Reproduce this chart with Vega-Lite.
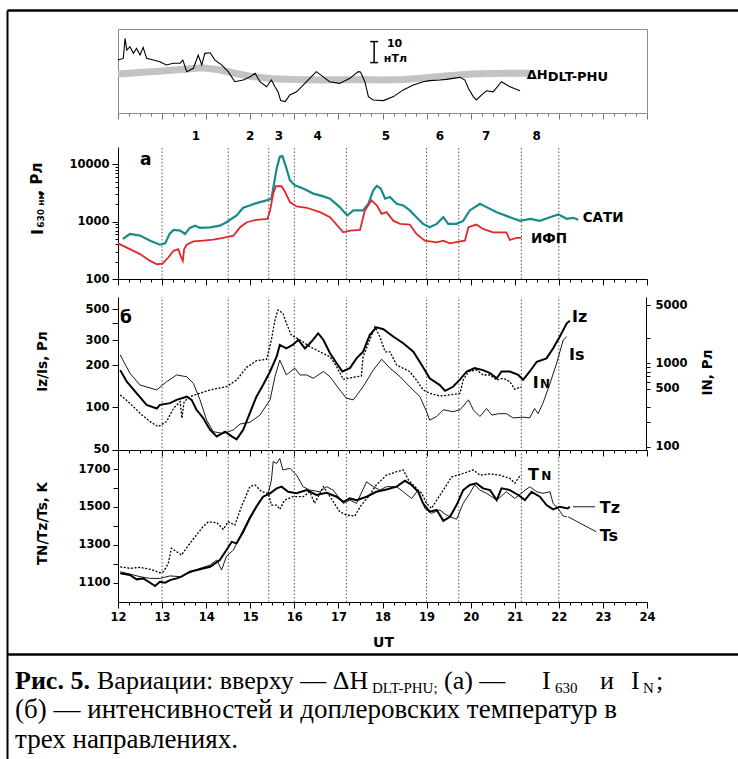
{
"$schema": "https://vega.github.io/schema/vega-lite/v6.json",
"width": 731, "height": 749,
"autosize": {"type": "none"},
"padding": {"left": 7, "top": 10, "right": 0, "bottom": 0},
"background": "white",
"config": {
 "view": {"stroke": null},
 "axis": {"grid": false, "domainColor": "black", "tickColor": "black", "labelColor": "black", "labelFont": "DejaVu Sans", "labelFontWeight": "bold", "labelFontSize": 11.5, "titleFont": "DejaVu Sans", "titleFontWeight": "bold", "titleFontSize": 13.5, "titleColor": "black", "labelOverlap": false, "labelFlush": false, "tickWidth": 1, "domainWidth": 1},
 "text": {"font": "DejaVu Sans", "fontWeight": "bold", "color": "black"}
},
"datasets": {
 "capBold": [{"line": 1, "col": 8, "text": "Рис. 5."}],
 "capReg": [
  {"line": 1, "col": 90, "text": "Вариации: вверху — ΔH"},
  {"line": 1, "col": 437, "text": "(а) —"},
  {"line": 1, "col": 535, "text": "I"},
  {"line": 1, "col": 593, "text": "и"},
  {"line": 1, "col": 624, "text": "I"},
  {"line": 1, "col": 649, "text": ";"}
 ],
 "capReg2": [
  {"line": 2, "col": 8, "text": "(б) — интенсивностей и доплеровских температур в"},
  {"line": 3, "col": 8, "text": "трех направлениях."}
 ],
 "capSub": [
  {"line": 1, "col": 365, "text": "DLT-PHU;"},
  {"line": 1, "col": 548, "text": "630"},
  {"line": 1, "col": 636, "text": "N"}
 ],
 "dh": [
  {"t":12.0,"v":25.2},{"t":12.12,"v":26},{"t":12.16,"v":35.5},{"t":12.2,"v":30},{"t":12.27,"v":31.6},{"t":12.35,"v":28.4},{"t":12.42,"v":30.8},{"t":12.5,"v":27.6},{"t":12.57,"v":31.3},{"t":12.65,"v":26},{"t":12.8,"v":25.2},{"t":12.95,"v":24.4},{"t":13.1,"v":22.9},{"t":13.25,"v":23.7},{"t":13.41,"v":23.7},{"t":13.47,"v":25.2},{"t":13.56,"v":19.7},{"t":13.71,"v":21.3},{"t":13.82,"v":27.6},{"t":13.9,"v":22.9},{"t":13.97,"v":28.4},{"t":14.09,"v":28.7},{"t":14.2,"v":25.2},{"t":14.35,"v":22.9},{"t":14.5,"v":19.7},{"t":14.65,"v":14.9},{"t":14.84,"v":15.7},{"t":15.0,"v":17.3},{"t":15.11,"v":18.9},{"t":15.22,"v":14.9},{"t":15.37,"v":12.5},{"t":15.48,"v":15.7},{"t":15.56,"v":12.5},{"t":15.63,"v":10.1},{"t":15.69,"v":5.9},{"t":15.79,"v":5.4},{"t":15.9,"v":8.6},{"t":16.05,"v":10.1},{"t":16.2,"v":13.3},{"t":16.35,"v":16.5},{"t":16.5,"v":19.7},{"t":16.65,"v":17.3},{"t":16.8,"v":14.9},{"t":17.03,"v":14.1},{"t":17.26,"v":16.5},{"t":17.45,"v":19.7},{"t":17.5,"v":19.5},{"t":17.6,"v":14.9},{"t":17.68,"v":7.8},{"t":17.79,"v":6.2},{"t":18.02,"v":5.9},{"t":18.25,"v":7.8},{"t":18.47,"v":11},{"t":18.7,"v":13.3},{"t":18.92,"v":14.9},{"t":19.07,"v":15.4},{"t":19.3,"v":15.7},{"t":19.45,"v":16},{"t":19.6,"v":16.5},{"t":19.76,"v":17},{"t":19.87,"v":15.7},{"t":19.95,"v":11.7},{"t":20.06,"v":7.8},{"t":20.13,"v":6.2},{"t":20.25,"v":8.6},{"t":20.36,"v":10.6},{"t":20.51,"v":10.1},{"t":20.7,"v":14.9},{"t":20.89,"v":12.5},{"t":21.12,"v":10.6}
 ],
 "band": [
  {"t":12.0,"v":18.6},{"t":12.5,"v":19.3},{"t":13.0,"v":20.0},{"t":13.5,"v":20.8},{"t":13.9,"v":21.5},{"t":14.3,"v":20.6},{"t":14.7,"v":18.7},{"t":15.0,"v":17.5},{"t":15.5,"v":16.3},{"t":16.0,"v":15.9},{"t":16.5,"v":15.7},{"t":17.0,"v":15.8},{"t":17.5,"v":16.0},{"t":18.0,"v":15.7},{"t":18.5,"v":16.0},{"t":19.0,"v":16.8},{"t":19.5,"v":17.8},{"t":20.0,"v":18.6},{"t":20.5,"v":18.8},{"t":21.0,"v":18.9},{"t":21.36,"v":18.9}
 ],
 "bar": [
  {"t":17.81,"t2":17.81,"v":24,"v2":34},
  {"t":17.72,"t2":17.9,"v":34,"v2":34},
  {"t":17.72,"t2":17.9,"v":24,"v2":24}
 ],
 "sati": [
  {"t":12.11,"v":499},{"t":12.27,"v":609},{"t":12.5,"v":570},{"t":12.73,"v":466},{"t":12.95,"v":396},{"t":13.07,"v":417},{"t":13.17,"v":609},{"t":13.26,"v":716},{"t":13.41,"v":698},{"t":13.52,"v":609},{"t":13.63,"v":777},{"t":13.75,"v":851},{"t":13.86,"v":777},{"t":14.09,"v":795},{"t":14.31,"v":851},{"t":14.46,"v":977},{"t":14.69,"v":1280},{"t":14.84,"v":1745},{"t":14.99,"v":1917},{"t":15.14,"v":2104},{"t":15.37,"v":2350},{"t":15.48,"v":2513},{"t":15.54,"v":4610},{"t":15.6,"v":8470},{"t":15.67,"v":13550},{"t":15.73,"v":13930},{"t":15.81,"v":9040},{"t":15.9,"v":5270},{"t":16.01,"v":4310},{"t":16.2,"v":3770},{"t":16.43,"v":3080},{"t":16.66,"v":2760},{"t":16.81,"v":2513},{"t":17.03,"v":1790},{"t":17.2,"v":1280},{"t":17.34,"v":1567},{"t":17.56,"v":1567},{"t":17.68,"v":2050},{"t":17.79,"v":3520},{"t":17.87,"v":4190},{"t":17.96,"v":3770},{"t":18.06,"v":2513},{"t":18.17,"v":2690},{"t":18.32,"v":2050},{"t":18.47,"v":1917},{"t":18.62,"v":1567},{"t":18.77,"v":1195},{"t":18.92,"v":914},{"t":19.07,"v":798},{"t":19.23,"v":914},{"t":19.38,"v":1195},{"t":19.49,"v":914},{"t":19.68,"v":914},{"t":19.83,"v":1030},{"t":19.98,"v":1567},{"t":20.21,"v":2050},{"t":20.36,"v":1790},{"t":20.59,"v":1462},{"t":20.89,"v":1195},{"t":21.12,"v":1030},{"t":21.35,"v":1120},{"t":21.57,"v":1030},{"t":21.8,"v":1195},{"t":21.99,"v":1330},{"t":22.18,"v":1120},{"t":22.33,"v":1166},{"t":22.44,"v":1076}
 ],
 "ifp": [
  {"t":12.0,"v":417},{"t":12.27,"v":332},{"t":12.5,"v":272},{"t":12.73,"v":207},{"t":12.88,"v":181},{"t":13.01,"v":186},{"t":13.14,"v":237},{"t":13.26,"v":310},{"t":13.37,"v":332},{"t":13.42,"v":253},{"t":13.47,"v":207},{"t":13.5,"v":332},{"t":13.56,"v":396},{"t":13.71,"v":453},{"t":13.93,"v":466},{"t":14.16,"v":485},{"t":14.39,"v":519},{"t":14.62,"v":570},{"t":14.77,"v":798},{"t":14.92,"v":977},{"t":15.14,"v":1076},{"t":15.39,"v":1120},{"t":15.45,"v":1567},{"t":15.52,"v":3080},{"t":15.58,"v":4140},{"t":15.71,"v":4140},{"t":15.79,"v":3290},{"t":15.9,"v":2190},{"t":16.05,"v":1840},{"t":16.28,"v":1745},{"t":16.58,"v":1462},{"t":16.81,"v":1195},{"t":17.11,"v":651},{"t":17.26,"v":698},{"t":17.49,"v":716},{"t":17.6,"v":1567},{"t":17.75,"v":2350},{"t":17.87,"v":1917},{"t":17.98,"v":1370},{"t":18.09,"v":1462},{"t":18.25,"v":1030},{"t":18.4,"v":914},{"t":18.62,"v":889},{"t":18.77,"v":609},{"t":18.96,"v":466},{"t":19.23,"v":434},{"t":19.38,"v":466},{"t":19.53,"v":417},{"t":19.76,"v":453},{"t":19.87,"v":466},{"t":19.95,"v":798},{"t":20.13,"v":889},{"t":20.28,"v":747},{"t":20.51,"v":651},{"t":20.81,"v":651},{"t":20.89,"v":478},{"t":21.04,"v":519},{"t":21.15,"v":519}
 ],
 "iz": [
  {"t":12.05,"v":184},{"t":12.2,"v":152},{"t":12.42,"v":126},{"t":12.65,"v":104},{"t":12.88,"v":98},{"t":12.95,"v":104},{"t":13.18,"v":107},{"t":13.33,"v":113},{"t":13.56,"v":119},{"t":13.67,"v":113},{"t":13.78,"v":96},{"t":13.93,"v":84},{"t":14.09,"v":69},{"t":14.24,"v":62},{"t":14.43,"v":67},{"t":14.58,"v":62},{"t":14.69,"v":59},{"t":14.84,"v":69},{"t":14.99,"v":91},{"t":15.14,"v":119},{"t":15.29,"v":144},{"t":15.45,"v":180},{"t":15.6,"v":230},{"t":15.67,"v":278},{"t":15.82,"v":263},{"t":15.96,"v":278},{"t":16.09,"v":302},{"t":16.24,"v":263},{"t":16.39,"v":294},{"t":16.54,"v":337},{"t":16.66,"v":302},{"t":16.81,"v":243},{"t":16.96,"v":206},{"t":17.09,"v":180},{"t":17.26,"v":190},{"t":17.41,"v":223},{"t":17.56,"v":249},{"t":17.71,"v":327},{"t":17.86,"v":371},{"t":18.02,"v":360},{"t":18.25,"v":318},{"t":18.47,"v":286},{"t":18.7,"v":249},{"t":18.89,"v":200},{"t":19.07,"v":161},{"t":19.3,"v":144},{"t":19.42,"v":131},{"t":19.6,"v":140},{"t":19.76,"v":158},{"t":19.91,"v":180},{"t":20.09,"v":190},{"t":20.28,"v":184},{"t":20.44,"v":175},{"t":20.59,"v":161},{"t":20.7,"v":180},{"t":20.89,"v":180},{"t":21.08,"v":170},{"t":21.19,"v":157},{"t":21.34,"v":180},{"t":21.5,"v":211},{"t":21.72,"v":223},{"t":21.87,"v":263},{"t":22.02,"v":318},{"t":22.18,"v":397},{"t":22.25,"v":414}
 ],
 "is": [
  {"t":12.05,"v":236},{"t":12.27,"v":175},{"t":12.5,"v":144},{"t":12.88,"v":133},{"t":13.1,"v":152},{"t":13.33,"v":170},{"t":13.56,"v":165},{"t":13.71,"v":148},{"t":13.86,"v":113},{"t":14.01,"v":81},{"t":14.16,"v":67},{"t":14.39,"v":65},{"t":14.62,"v":69},{"t":14.77,"v":76},{"t":14.99,"v":78},{"t":15.22,"v":88},{"t":15.45,"v":113},{"t":15.56,"v":165},{"t":15.67,"v":217},{"t":15.82,"v":170},{"t":16.01,"v":190},{"t":16.13,"v":170},{"t":16.28,"v":170},{"t":16.43,"v":161},{"t":16.66,"v":180},{"t":16.81,"v":165},{"t":17.03,"v":133},{"t":17.18,"v":116},{"t":17.34,"v":113},{"t":17.56,"v":140},{"t":17.79,"v":184},{"t":17.98,"v":220},{"t":18.17,"v":190},{"t":18.4,"v":165},{"t":18.62,"v":140},{"t":18.85,"v":119},{"t":19.0,"v":93},{"t":19.07,"v":81},{"t":19.23,"v":86},{"t":19.38,"v":96},{"t":19.6,"v":93},{"t":19.76,"v":96},{"t":19.95,"v":113},{"t":20.06,"v":96},{"t":20.21,"v":86},{"t":20.36,"v":98},{"t":20.48,"v":88},{"t":20.63,"v":90},{"t":20.81,"v":90},{"t":20.96,"v":84},{"t":21.19,"v":85},{"t":21.34,"v":84},{"t":21.45,"v":98},{"t":21.53,"v":90},{"t":21.64,"v":107},{"t":21.8,"v":148},{"t":21.95,"v":206},{"t":22.1,"v":302},{"t":22.18,"v":318}
 ],
 "in": [
  {"t":12.05,"v":420},{"t":12.27,"v":334},{"t":12.5,"v":253},{"t":12.73,"v":201},{"t":12.91,"v":175},{"t":13.1,"v":201},{"t":13.26,"v":291},{"t":13.41,"v":349},{"t":13.45,"v":221},{"t":13.5,"v":349},{"t":13.63,"v":400},{"t":13.86,"v":440},{"t":14.09,"v":482},{"t":14.46,"v":527},{"t":14.69,"v":634},{"t":14.92,"v":900},{"t":15.14,"v":1081},{"t":15.37,"v":1122},{"t":15.48,"v":1910},{"t":15.56,"v":3320},{"t":15.63,"v":4370},{"t":15.74,"v":3990},{"t":15.82,"v":3030},{"t":15.93,"v":2190},{"t":16.13,"v":1910},{"t":16.35,"v":1590},{"t":16.58,"v":1380},{"t":16.81,"v":1200},{"t":16.96,"v":915},{"t":17.11,"v":646},{"t":17.34,"v":683},{"t":17.52,"v":708},{"t":17.56,"v":1200},{"t":17.68,"v":1745},{"t":17.83,"v":2750},{"t":17.94,"v":2090},{"t":18.06,"v":1380},{"t":18.17,"v":1380},{"t":18.32,"v":959},{"t":18.47,"v":875},{"t":18.62,"v":798},{"t":18.77,"v":634},{"t":18.92,"v":482},{"t":19.07,"v":440},{"t":19.3,"v":408},{"t":19.53,"v":420},{"t":19.76,"v":440},{"t":19.83,"v":634},{"t":19.95,"v":798},{"t":20.13,"v":836},{"t":20.28,"v":728},{"t":20.44,"v":728},{"t":20.59,"v":634},{"t":20.74,"v":665},{"t":20.89,"v":605},{"t":21.0,"v":491},{"t":21.15,"v":527}
 ],
 "tz": [
  {"t":12.05,"v":1150},{"t":12.27,"v":1141},{"t":12.42,"v":1118},{"t":12.57,"v":1123},{"t":12.73,"v":1100},{"t":12.84,"v":1083},{"t":12.95,"v":1105},{"t":13.07,"v":1100},{"t":13.18,"v":1114},{"t":13.33,"v":1123},{"t":13.44,"v":1132},{"t":13.63,"v":1158},{"t":13.86,"v":1171},{"t":14.09,"v":1184},{"t":14.31,"v":1220},{"t":14.46,"v":1273},{"t":14.58,"v":1316},{"t":14.69,"v":1308},{"t":14.84,"v":1369},{"t":14.99,"v":1440},{"t":15.14,"v":1501},{"t":15.29,"v":1554},{"t":15.45,"v":1572},{"t":15.6,"v":1598},{"t":15.71,"v":1607},{"t":15.86,"v":1580},{"t":16.05,"v":1572},{"t":16.28,"v":1589},{"t":16.5,"v":1563},{"t":16.73,"v":1575},{"t":16.96,"v":1554},{"t":17.11,"v":1527},{"t":17.26,"v":1545},{"t":17.41,"v":1536},{"t":17.64,"v":1554},{"t":17.86,"v":1580},{"t":18.09,"v":1592},{"t":18.32,"v":1607},{"t":18.51,"v":1638},{"t":18.66,"v":1616},{"t":18.81,"v":1580},{"t":18.92,"v":1519},{"t":19.07,"v":1475},{"t":19.23,"v":1484},{"t":19.38,"v":1427},{"t":19.53,"v":1448},{"t":19.68,"v":1510},{"t":19.83,"v":1589},{"t":19.98,"v":1616},{"t":20.13,"v":1625},{"t":20.28,"v":1598},{"t":20.44,"v":1589},{"t":20.59,"v":1536},{"t":20.7,"v":1598},{"t":20.89,"v":1589},{"t":21.08,"v":1563},{"t":21.23,"v":1536},{"t":21.38,"v":1580},{"t":21.57,"v":1554},{"t":21.72,"v":1510},{"t":21.87,"v":1487},{"t":22.02,"v":1501},{"t":22.2,"v":1492},{"t":22.25,"v":1501}
 ],
 "ts": [
  {"t":12.05,"v":1158},{"t":12.27,"v":1146},{"t":12.5,"v":1132},{"t":12.73,"v":1123},{"t":12.95,"v":1123},{"t":13.18,"v":1136},{"t":13.41,"v":1132},{"t":13.63,"v":1153},{"t":13.86,"v":1176},{"t":14.09,"v":1193},{"t":14.24,"v":1220},{"t":14.35,"v":1167},{"t":14.46,"v":1240},{"t":14.62,"v":1273},{"t":14.8,"v":1360},{"t":14.99,"v":1448},{"t":15.22,"v":1536},{"t":15.41,"v":1572},{"t":15.48,"v":1642},{"t":15.52,"v":1739},{"t":15.6,"v":1730},{"t":15.67,"v":1756},{"t":15.74,"v":1695},{"t":15.9,"v":1704},{"t":16.05,"v":1668},{"t":16.2,"v":1607},{"t":16.35,"v":1589},{"t":16.58,"v":1580},{"t":16.73,"v":1607},{"t":16.88,"v":1589},{"t":17.11,"v":1519},{"t":17.26,"v":1536},{"t":17.41,"v":1519},{"t":17.64,"v":1633},{"t":17.79,"v":1607},{"t":17.94,"v":1589},{"t":18.09,"v":1607},{"t":18.32,"v":1607},{"t":18.47,"v":1580},{"t":18.66,"v":1545},{"t":18.81,"v":1589},{"t":18.96,"v":1492},{"t":19.11,"v":1466},{"t":19.3,"v":1484},{"t":19.45,"v":1457},{"t":19.68,"v":1435},{"t":19.83,"v":1519},{"t":19.98,"v":1572},{"t":20.09,"v":1616},{"t":20.21,"v":1589},{"t":20.36,"v":1572},{"t":20.59,"v":1536},{"t":20.81,"v":1580},{"t":21.0,"v":1545},{"t":21.19,"v":1580},{"t":21.34,"v":1607},{"t":21.5,"v":1580},{"t":21.64,"v":1572},{"t":21.8,"v":1580},{"t":21.87,"v":1519},{"t":21.98,"v":1492},{"t":22.1,"v":1452},{"t":22.18,"v":1448}
 ],
 "tn": [
  {"t":12.05,"v":1184},{"t":12.27,"v":1176},{"t":12.5,"v":1181},{"t":12.73,"v":1171},{"t":12.95,"v":1153},{"t":13.03,"v":1158},{"t":13.14,"v":1202},{"t":13.21,"v":1282},{"t":13.33,"v":1264},{"t":13.44,"v":1246},{"t":13.63,"v":1308},{"t":13.78,"v":1352},{"t":13.93,"v":1396},{"t":14.05,"v":1422},{"t":14.24,"v":1417},{"t":14.39,"v":1382},{"t":14.5,"v":1422},{"t":14.65,"v":1404},{"t":14.8,"v":1501},{"t":14.99,"v":1607},{"t":15.11,"v":1616},{"t":15.26,"v":1580},{"t":15.41,"v":1572},{"t":15.48,"v":1510},{"t":15.6,"v":1510},{"t":15.67,"v":1487},{"t":15.78,"v":1536},{"t":15.97,"v":1554},{"t":16.2,"v":1554},{"t":16.35,"v":1580},{"t":16.46,"v":1519},{"t":16.66,"v":1607},{"t":16.81,"v":1554},{"t":17.03,"v":1475},{"t":17.18,"v":1457},{"t":17.37,"v":1452},{"t":17.52,"v":1510},{"t":17.71,"v":1563},{"t":17.86,"v":1616},{"t":18.09,"v":1668},{"t":18.32,"v":1686},{"t":18.47,"v":1695},{"t":18.59,"v":1642},{"t":18.77,"v":1598},{"t":18.89,"v":1572},{"t":19.0,"v":1519},{"t":19.11,"v":1492},{"t":19.23,"v":1536},{"t":19.38,"v":1589},{"t":19.57,"v":1659},{"t":19.83,"v":1677},{"t":20.06,"v":1695},{"t":20.21,"v":1668},{"t":20.44,"v":1674},{"t":20.66,"v":1668},{"t":20.89,"v":1651},{"t":21.0,"v":1625},{"t":21.13,"v":1668}
 ],
 "vlines": [{"t":13.0},{"t":14.5},{"t":15.42},{"t":16.0},{"t":17.18},{"t":19.0},{"t":19.73},{"t":21.15},{"t":22.0}],
 "nums": [{"t":13.77,"n":"1"},{"t":15.0,"n":"2"},{"t":15.65,"n":"3"},{"t":16.53,"n":"4"},{"t":18.08,"n":"5"},{"t":19.3,"n":"6"},{"t":20.35,"n":"7"},{"t":21.5,"n":"8"}],
 "conn": [{"t":22.32,"t2":22.82,"v":1501,"v2":1501},{"t":22.21,"t2":22.85,"v":1448,"v2":1369}]
},
"resolve": {"scale": {"x": "independent", "y": "independent"}, "axis": {"x": "independent", "y": "independent"}},
"layer": [
 {"data": {"name": "capBold"}, "mark": {"type": "text", "font": "Liberation Serif", "fontSize": 26, "fontWeight": "bold", "align": "left", "baseline": "alphabetic"},
  "encoding": {
   "x": {"field": "col", "type": "quantitative", "scale": {"domain": [0, 731], "range": [0, 731], "nice": false, "zero": false}, "axis": {"orient": "top", "offset": 0, "domainColor": "black", "domainWidth": 2.5, "ticks": false, "labels": false, "title": null}},
   "y": {"field": "line", "type": "quantitative", "scale": {"domain": [-22.017, 3.373], "range": [0, 749], "nice": false, "zero": false}, "axis": {"orient": "left", "offset": 0, "domainColor": "black", "domainWidth": 2, "ticks": false, "labels": false, "title": null}},
   "text": {"field": "text"}}},
 {"data": {"name": "capReg"}, "mark": {"type": "text", "font": "Liberation Serif", "fontSize": 26, "fontWeight": "normal", "align": "left", "baseline": "alphabetic"},
  "encoding": {
   "x": {"field": "col", "type": "quantitative", "scale": {"domain": [0, 731], "range": [0, 731], "nice": false, "zero": false}, "axis": {"orient": "bottom", "offset": -105, "domainColor": "black", "domainWidth": 2.5, "ticks": false, "labels": false, "title": null}},
   "y": {"field": "line", "type": "quantitative", "scale": {"domain": [-22.017, 3.373], "range": [0, 749], "nice": false, "zero": false}, "axis": null},
   "text": {"field": "text"}}},
 {"data": {"name": "capReg2"}, "mark": {"type": "text", "font": "Liberation Serif", "fontSize": 27, "fontWeight": "normal", "align": "left", "baseline": "alphabetic"},
  "encoding": {
   "x": {"field": "col", "type": "quantitative", "scale": {"domain": [0, 731], "range": [0, 731], "nice": false, "zero": false}, "axis": null},
   "y": {"field": "line", "type": "quantitative", "scale": {"domain": [-22.017, 3.373], "range": [0, 749], "nice": false, "zero": false}, "axis": null},
   "text": {"field": "text"}}},
 {"data": {"name": "capSub"}, "mark": {"type": "text", "font": "Liberation Serif", "fontSize": 15, "fontWeight": "normal", "align": "left", "baseline": "alphabetic", "dy": 4},
  "encoding": {
   "x": {"field": "col", "type": "quantitative", "scale": {"domain": [0, 731], "range": [0, 731], "nice": false, "zero": false}, "axis": null},
   "y": {"field": "line", "type": "quantitative", "scale": {"domain": [-22.017, 3.373], "range": [0, 749], "nice": false, "zero": false}, "axis": null},
   "text": {"field": "text"}}},

 {"data": {"name": "band"}, "mark": {"type": "line", "color": "#c3c3c3", "strokeWidth": 7, "strokeCap": "butt"},
  "encoding": {
   "x": {"field": "t", "type": "quantitative", "scale": {"domain": [12, 24], "range": [111, 640], "nice": false, "zero": false}, "axis": {"orient": "top", "offset": -19, "domainColor": "#8c8c8c", "ticks": false, "labels": false, "title": null}},
   "y": {"field": "v", "type": "quantitative", "scale": {"domain": [0, 40], "range": [103, 19], "nice": false, "zero": false}, "axis": {"orient": "right", "offset": -91, "domainColor": "#8c8c8c", "ticks": false, "labels": false, "title": null}}}},
 {"data": {"name": "dh"}, "mark": {"type": "line", "color": "black", "strokeWidth": 1.1},
  "encoding": {
   "x": {"field": "t", "type": "quantitative", "scale": {"domain": [12, 24], "range": [111, 640], "nice": false, "zero": false}, "axis": {"orient": "bottom", "offset": -646, "values": [12,13,14,15,16,17,18,19,20,21,22,23,24], "tickSize": 6, "domainColor": "#8c8c8c", "tickColor": "#777777", "labels": false, "title": null}},
   "y": {"field": "v", "type": "quantitative", "scale": {"domain": [0, 40], "range": [103, 19], "nice": false, "zero": false}, "axis": {"orient": "left", "offset": -111, "domainColor": "#8c8c8c", "ticks": false, "labels": false, "title": null}}}},
 {"data": {"name": "bar"}, "mark": {"type": "rule", "color": "black", "strokeWidth": 1.5},
  "encoding": {
   "x": {"field": "t", "type": "quantitative", "scale": {"domain": [12, 24], "range": [111, 640], "nice": false, "zero": false}, "axis": {"orient": "bottom", "offset": -646, "values": [12.25,12.5,12.75,13.25,13.5,13.75,14.25,14.5,14.75,15.25,15.5,15.75,16.25,16.5,16.75,17.25,17.5,17.75,18.25,18.5,18.75,19.25,19.5,19.75,20.25,20.5,20.75,21.25,21.5,21.75,22.25,22.5,22.75,23.25,23.5,23.75], "tickSize": 3, "domain": false, "tickColor": "#777777", "labels": false, "title": null}},
   "x2": {"field": "t2"},
   "y": {"field": "v", "type": "quantitative", "scale": {"domain": [0, 40], "range": [103, 19], "nice": false, "zero": false}, "axis": null},
   "y2": {"field": "v2"}}},
 {"data": {"values": [{"t": 18.1, "v": 32.9, "text": "10"}, {"t": 18.03, "v": 25.7, "text": "нТл"}]}, "mark": {"type": "text", "fontSize": 11, "align": "left", "baseline": "middle"},
  "encoding": {
   "x": {"field": "t", "type": "quantitative", "scale": {"domain": [12, 24], "range": [111, 640], "nice": false, "zero": false}, "axis": null},
   "y": {"field": "v", "type": "quantitative", "scale": {"domain": [0, 40], "range": [103, 19], "nice": false, "zero": false}, "axis": null},
   "text": {"field": "text"}}},
 {"data": {"values": [{"t": 21.27, "v": 18.1, "text": "ΔH"}]}, "mark": {"type": "text", "fontSize": 13, "align": "left", "baseline": "middle"},
  "encoding": {
   "x": {"field": "t", "type": "quantitative", "scale": {"domain": [12, 24], "range": [111, 640], "nice": false, "zero": false}, "axis": null},
   "y": {"field": "v", "type": "quantitative", "scale": {"domain": [0, 40], "range": [103, 19], "nice": false, "zero": false}, "axis": null},
   "text": {"field": "text"}}},
 {"data": {"values": [{"t": 21.75, "v": 17.3, "text": "DLT-PHU"}]}, "mark": {"type": "text", "fontSize": 13, "align": "left", "baseline": "middle"},
  "encoding": {
   "x": {"field": "t", "type": "quantitative", "scale": {"domain": [12, 24], "range": [111, 640], "nice": false, "zero": false}, "axis": null},
   "y": {"field": "v", "type": "quantitative", "scale": {"domain": [0, 40], "range": [103, 19], "nice": false, "zero": false}, "axis": null},
   "text": {"field": "text"}}},

 {"data": {"name": "vlines"}, "mark": {"type": "rule", "color": "#555555", "strokeWidth": 1, "strokeDash": [1.5, 2]},
  "encoding": {
   "x": {"field": "t", "type": "quantitative", "scale": {"domain": [12, 24], "range": [111, 640], "nice": false, "zero": false}, "axis": null},
   "y": {"datum": 100, "type": "quantitative", "scale": {"type": "log", "domain": [100, 20000], "range": [269, 137], "nice": false}, "axis": null},
   "y2": {"datum": 20000}}},
 {"data": {"name": "vlines"}, "mark": {"type": "rule", "color": "#555555", "strokeWidth": 1, "strokeDash": [1.5, 2]},
  "encoding": {
   "x": {"field": "t", "type": "quantitative", "scale": {"domain": [12, 24], "range": [111, 640], "nice": false, "zero": false}, "axis": null},
   "y": {"datum": 0, "type": "quantitative", "scale": {"domain": [0, 1], "range": [592, 287], "nice": false, "zero": false}, "axis": null},
   "y2": {"datum": 1}}},

 {"data": {"name": "sati"}, "mark": {"type": "line", "color": "#178b8b", "strokeWidth": 2.2},
  "encoding": {
   "x": {"field": "t", "type": "quantitative", "scale": {"domain": [12, 24], "range": [111, 640], "nice": false, "zero": false}, "axis": {"orient": "bottom", "offset": -480, "values": [12,13,14,15,16,17,18,19,20,21,22,23,24], "tickSize": 6, "labels": false, "title": null}},
   "y": {"field": "v", "type": "quantitative", "scale": {"type": "log", "domain": [100, 20000], "range": [269, 137], "nice": false}, "axis": {"orient": "left", "offset": -111, "values": [100, 1000, 10000], "format": "d", "tickSize": 6, "labelPadding": 3, "title": null}}}},
 {"data": {"name": "ifp"}, "mark": {"type": "line", "color": "#e4262a", "strokeWidth": 1.8},
  "encoding": {
   "x": {"field": "t", "type": "quantitative", "scale": {"domain": [12, 24], "range": [111, 640], "nice": false, "zero": false}, "axis": {"orient": "bottom", "offset": -480, "values": [12.25,12.5,12.75,13.25,13.5,13.75,14.25,14.5,14.75,15.25,15.5,15.75,16.25,16.5,16.75,17.25,17.5,17.75,18.25,18.5,18.75,19.25,19.5,19.75,20.25,20.5,20.75,21.25,21.5,21.75,22.25,22.5,22.75,23.25,23.5,23.75], "tickSize": 3, "domain": false, "labels": false, "title": null}},
   "y": {"field": "v", "type": "quantitative", "scale": {"type": "log", "domain": [100, 20000], "range": [269, 137], "nice": false}, "axis": {"orient": "left", "offset": -111, "values": [200,300,400,500,600,700,800,900,2000,3000,4000,5000,6000,7000,8000,9000], "tickSize": 3, "domain": false, "labels": false, "title": null}}}},
 {"data": {"values": [{"t": 22.54, "v": 985, "text": "САТИ"}, {"t": 21.37, "v": 424, "text": "ИФП"}]}, "mark": {"type": "text", "fontSize": 13.5, "align": "left", "baseline": "alphabetic"},
  "encoding": {
   "x": {"field": "t", "type": "quantitative", "scale": {"domain": [12, 24], "range": [111, 640], "nice": false, "zero": false}, "axis": null},
   "y": {"field": "v", "type": "quantitative", "scale": {"type": "log", "domain": [100, 20000], "range": [269, 137], "nice": false}, "axis": null},
   "text": {"field": "text"}}},
 {"data": {"name": "nums"}, "mark": {"type": "text", "fontSize": 12, "align": "center", "baseline": "middle"},
  "encoding": {
   "x": {"field": "t", "type": "quantitative", "scale": {"domain": [12, 24], "range": [111, 640], "nice": false, "zero": false}, "axis": null},
   "y": {"datum": 31100, "type": "quantitative", "scale": {"type": "log", "domain": [100, 20000], "range": [269, 137], "nice": false}, "axis": null},
   "text": {"field": "n"}}},
 {"data": {"values": [{"t": 12.63, "v": 11860, "text": "а"}]}, "mark": {"type": "text", "fontSize": 17, "align": "center", "baseline": "middle"},
  "encoding": {
   "x": {"field": "t", "type": "quantitative", "scale": {"domain": [12, 24], "range": [111, 640], "nice": false, "zero": false}, "axis": null},
   "y": {"field": "v", "type": "quantitative", "scale": {"type": "log", "domain": [100, 20000], "range": [269, 137], "nice": false}, "axis": null},
   "text": {"field": "text"}}},
 {"data": {"values": [{"t": 10.19, "v": 659, "text": "I"}, {"t": 10.17, "v": 5535, "text": ", Рл"}]}, "mark": {"type": "text", "fontSize": 15, "align": "center", "baseline": "middle", "angle": 270},
  "encoding": {
   "x": {"field": "t", "type": "quantitative", "scale": {"domain": [12, 24], "range": [111, 640], "nice": false, "zero": false}, "axis": null},
   "y": {"field": "v", "type": "quantitative", "scale": {"type": "log", "domain": [100, 20000], "range": [269, 137], "nice": false}, "axis": null},
   "text": {"field": "text"}}},
 {"data": {"values": [{"t": 10.25, "v": 1596, "text": "630 нм"}]}, "mark": {"type": "text", "fontSize": 9, "align": "center", "baseline": "middle", "angle": 270},
  "encoding": {
   "x": {"field": "t", "type": "quantitative", "scale": {"domain": [12, 24], "range": [111, 640], "nice": false, "zero": false}, "axis": null},
   "y": {"field": "v", "type": "quantitative", "scale": {"type": "log", "domain": [100, 20000], "range": [269, 137], "nice": false}, "axis": null},
   "text": {"field": "text"}}},

 {"data": {"name": "iz"}, "mark": {"type": "line", "color": "black", "strokeWidth": 2},
  "encoding": {
   "x": {"field": "t", "type": "quantitative", "scale": {"domain": [12, 24], "range": [111, 640], "nice": false, "zero": false}, "axis": {"orient": "bottom", "offset": -309, "values": [12,13,14,15,16,17,18,19,20,21,22,23,24], "tickSize": 6, "labels": false, "title": null}},
   "y": {"field": "v", "type": "quantitative", "scale": {"type": "log", "domain": [49.6, 611], "range": [440, 287], "nice": false}, "axis": {"orient": "left", "offset": -111, "values": [50, 100, 200, 300, 400, 500], "format": "d", "labelExpr": "datum.value == 400 ? '' : datum.label", "tickSize": 6, "labelPadding": 3, "title": "Iz/Is, Рл", "titleAngle": 270, "titleAlign": "center", "titleBaseline": "middle", "titleX": -76, "titleY": 351}}}},
 {"data": {"name": "is"}, "mark": {"type": "line", "color": "black", "strokeWidth": 0.9},
  "encoding": {
   "x": {"field": "t", "type": "quantitative", "scale": {"domain": [12, 24], "range": [111, 640], "nice": false, "zero": false}, "axis": {"orient": "bottom", "offset": -309, "values": [12.25,12.5,12.75,13.25,13.5,13.75,14.25,14.5,14.75,15.25,15.5,15.75,16.25,16.5,16.75,17.25,17.5,17.75,18.25,18.5,18.75,19.25,19.5,19.75,20.25,20.5,20.75,21.25,21.5,21.75,22.25,22.5,22.75,23.25,23.5,23.75], "tickSize": 3, "domain": false, "labels": false, "title": null}},
   "y": {"field": "v", "type": "quantitative", "scale": {"type": "log", "domain": [49.6, 611], "range": [440, 287], "nice": false}, "axis": null}}},
 {"data": {"name": "in"}, "mark": {"type": "line", "color": "black", "strokeWidth": 1.3, "strokeDash": [2, 1.6]},
  "encoding": {
   "x": {"field": "t", "type": "quantitative", "scale": {"domain": [12, 24], "range": [111, 640], "nice": false, "zero": false}, "axis": null},
   "y": {"field": "v", "type": "quantitative", "scale": {"type": "log", "domain": [92, 6250], "range": [440, 287], "nice": false}, "axis": {"orient": "right", "offset": -92, "values": [100, 200, 300, 500, 600, 700, 800, 900, 1000, 2000, 5000], "format": "d", "labelExpr": "(datum.value == 100 || datum.value == 500 || datum.value == 1000 || datum.value == 5000) ? datum.label : ''", "tickSize": 4, "labelPadding": 5, "title": "IN, Рл", "titleAngle": 270, "titleAlign": "center", "titleBaseline": "middle", "titleX": 61, "titleY": 362}}}},
 {"data": {"values": [{"t": 22.3, "v": 408, "text": "Iz"}, {"t": 22.23, "v": 217, "text": "Is"}, {"t": 21.41, "v": 137, "text": "I"}]}, "mark": {"type": "text", "fontSize": 16, "align": "left", "baseline": "alphabetic"},
  "encoding": {
   "x": {"field": "t", "type": "quantitative", "scale": {"domain": [12, 24], "range": [111, 640], "nice": false, "zero": false}, "axis": null},
   "y": {"field": "v", "type": "quantitative", "scale": {"type": "log", "domain": [49.6, 611], "range": [440, 287], "nice": false}, "axis": null},
   "text": {"field": "text"}}},
 {"data": {"values": [{"t": 21.57, "v": 137, "text": "N"}]}, "mark": {"type": "text", "fontSize": 12, "align": "left", "baseline": "alphabetic"},
  "encoding": {
   "x": {"field": "t", "type": "quantitative", "scale": {"domain": [12, 24], "range": [111, 640], "nice": false, "zero": false}, "axis": null},
   "y": {"field": "v", "type": "quantitative", "scale": {"type": "log", "domain": [49.6, 611], "range": [440, 287], "nice": false}, "axis": null},
   "text": {"field": "text"}}},
 {"data": {"values": [{"t": 12.18, "v": 433, "text": "б"}]}, "mark": {"type": "text", "fontSize": 17, "align": "center", "baseline": "middle"},
  "encoding": {
   "x": {"field": "t", "type": "quantitative", "scale": {"domain": [12, 24], "range": [111, 640], "nice": false, "zero": false}, "axis": null},
   "y": {"field": "v", "type": "quantitative", "scale": {"type": "log", "domain": [49.6, 611], "range": [440, 287], "nice": false}, "axis": null},
   "text": {"field": "text"}}},

 {"data": {"name": "tz"}, "mark": {"type": "line", "color": "black", "strokeWidth": 2},
  "encoding": {
   "x": {"field": "t", "type": "quantitative", "scale": {"domain": [12, 24], "range": [111, 640], "nice": false, "zero": false}, "axis": {"orient": "bottom", "offset": -157, "values": [12,13,14,15,16,17,18,19,20,21,22,23,24], "format": "d", "tickSize": 6, "labelPadding": 3, "title": "UT", "titleFontSize": 14, "titleAlign": "center", "titleBaseline": "middle", "titleX": 376, "titleY": 40}},
   "y": {"field": "v", "type": "quantitative", "scale": {"domain": [1000, 1800], "range": [591.7, 440.1], "nice": false, "zero": false}, "axis": {"orient": "left", "offset": -111, "values": [1100, 1200, 1300, 1400, 1500, 1600, 1700], "format": "d", "labelExpr": "datum.value % 200 == 100 ? datum.label : ''", "tickSize": 5, "labelPadding": 3, "title": "TN/Tz/Ts, K", "titleAngle": 270, "titleAlign": "center", "titleBaseline": "middle", "titleX": -76, "titleY": 513}}}},
 {"data": {"name": "ts"}, "mark": {"type": "line", "color": "black", "strokeWidth": 0.9},
  "encoding": {
   "x": {"field": "t", "type": "quantitative", "scale": {"domain": [12, 24], "range": [111, 640], "nice": false, "zero": false}, "axis": {"orient": "bottom", "offset": -157, "values": [12.25,12.5,12.75,13.25,13.5,13.75,14.25,14.5,14.75,15.25,15.5,15.75,16.25,16.5,16.75,17.25,17.5,17.75,18.25,18.5,18.75,19.25,19.5,19.75,20.25,20.5,20.75,21.25,21.5,21.75,22.25,22.5,22.75,23.25,23.5,23.75], "tickSize": 3, "domain": false, "labels": false, "title": null}},
   "y": {"field": "v", "type": "quantitative", "scale": {"domain": [1000, 1800], "range": [591.7, 440.1], "nice": false, "zero": false}, "axis": null}}},
 {"data": {"name": "tn"}, "mark": {"type": "line", "color": "black", "strokeWidth": 1.3, "strokeDash": [2, 1.6]},
  "encoding": {
   "x": {"field": "t", "type": "quantitative", "scale": {"domain": [12, 24], "range": [111, 640], "nice": false, "zero": false}, "axis": null},
   "y": {"field": "v", "type": "quantitative", "scale": {"domain": [1000, 1800], "range": [591.7, 440.1], "nice": false, "zero": false}, "axis": null}}},
 {"data": {"name": "conn"}, "mark": {"type": "rule", "color": "black", "strokeWidth": 0.9},
  "encoding": {
   "x": {"field": "t", "type": "quantitative", "scale": {"domain": [12, 24], "range": [111, 640], "nice": false, "zero": false}, "axis": null},
   "x2": {"field": "t2"},
   "y": {"field": "v", "type": "quantitative", "scale": {"domain": [1000, 1800], "range": [591.7, 440.1], "nice": false, "zero": false}, "axis": null},
   "y2": {"field": "v2"}}},
 {"data": {"values": [{"t": 22.93, "v": 1468, "text": "Tz"}, {"t": 22.93, "v": 1320, "text": "Ts"}, {"t": 21.3, "v": 1642, "text": "T"}]}, "mark": {"type": "text", "fontSize": 16, "align": "left", "baseline": "alphabetic"},
  "encoding": {
   "x": {"field": "t", "type": "quantitative", "scale": {"domain": [12, 24], "range": [111, 640], "nice": false, "zero": false}, "axis": null},
   "y": {"field": "v", "type": "quantitative", "scale": {"domain": [1000, 1800], "range": [591.7, 440.1], "nice": false, "zero": false}, "axis": null},
   "text": {"field": "text"}}},
 {"data": {"values": [{"t": 21.6, "v": 1642, "text": "N"}]}, "mark": {"type": "text", "fontSize": 12, "align": "left", "baseline": "alphabetic"},
  "encoding": {
   "x": {"field": "t", "type": "quantitative", "scale": {"domain": [12, 24], "range": [111, 640], "nice": false, "zero": false}, "axis": null},
   "y": {"field": "v", "type": "quantitative", "scale": {"domain": [1000, 1800], "range": [591.7, 440.1], "nice": false, "zero": false}, "axis": null},
   "text": {"field": "text"}}}
]
}
